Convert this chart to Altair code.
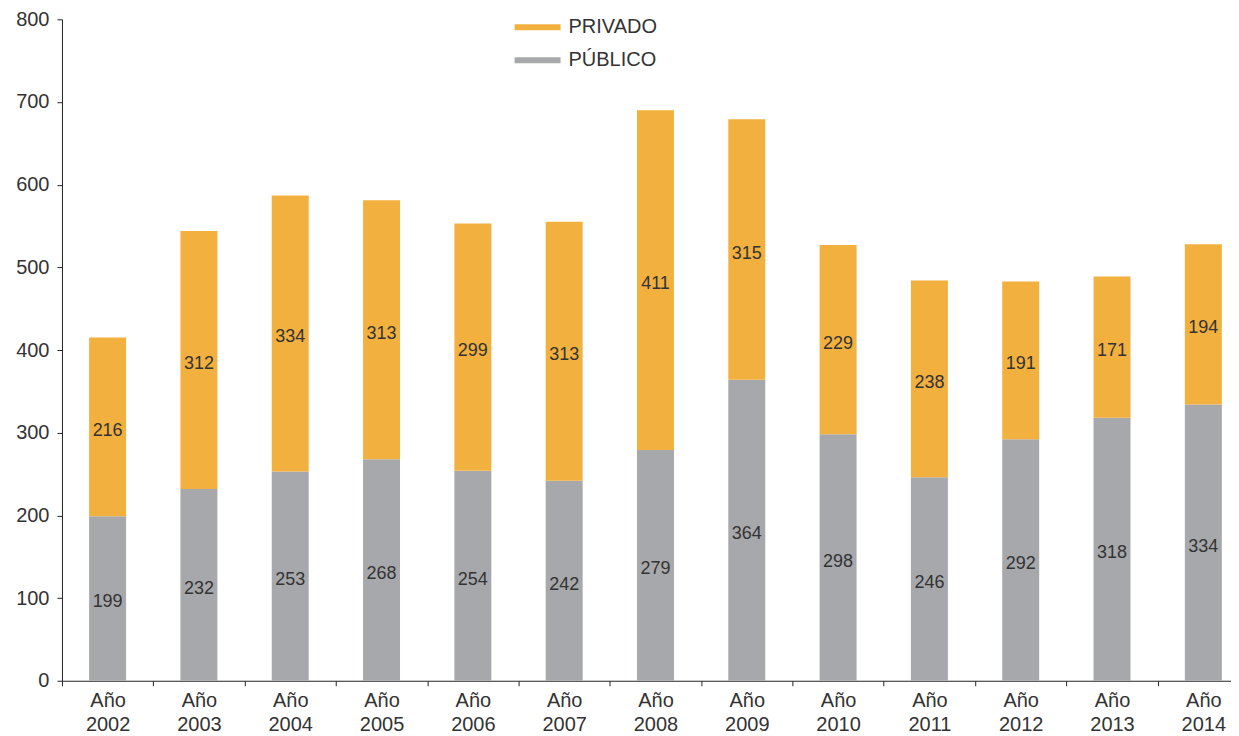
import altair as alt
import pandas as pd

years = ["Año 2002", "Año 2003", "Año 2004", "Año 2005", "Año 2006", "Año 2007",
         "Año 2008", "Año 2009", "Año 2010", "Año 2011", "Año 2012", "Año 2013", "Año 2014"]
publico = [199, 232, 253, 268, 254, 242, 279, 364, 298, 246, 292, 318, 334]
privado = [216, 312, 334, 313, 299, 313, 411, 315, 229, 238, 191, 171, 194]

rows = []
for y, pu, pr in zip(years, publico, privado):
    rows.append({"year": y, "serie": "PÚBLICO", "value": pu, "ord": 0, "mid": pu / 2})
    rows.append({"year": y, "serie": "PRIVADO", "value": pr, "ord": 1, "mid": pu + pr / 2})
df = pd.DataFrame(rows)

FONT = "Liberation Sans"
TXT = "#333333"

x = alt.X("year:N", sort=years, title=None,
          scale=alt.Scale(paddingInner=0, paddingOuter=0, rangeMax=1188),
          axis=alt.Axis(labelAngle=0, tickBand="extent", tickSize=5, labelPadding=5,
                        labelExpr="split(datum.label, ' ')", labelLineHeight=24,
                        labelFontSize=20, labelColor=TXT, labelFont=FONT,
                        domainColor="#222222", tickColor="#222222"))

bars = alt.Chart(df).mark_bar(width=alt.RelativeBandSize(0.405)).encode(
    x=x,
    y=alt.Y("value:Q", stack="zero", title=None,
            scale=alt.Scale(domain=[0, 800]),
            axis=alt.Axis(values=list(range(0, 801, 100)), grid=False, tickSize=5,
                          labelPadding=8, labelFontSize=20, labelColor=TXT, labelFont=FONT,
                          domainColor="#222222", tickColor="#222222")),
    color=alt.Color("serie:N", title=None,
                    scale=alt.Scale(domain=["PRIVADO", "PÚBLICO"], range=["#F2B03F", "#A7A8AC"]),
                    legend=alt.Legend(orient="none", legendX=453, legendY=-15,
                                      symbolType="M-1,-0.13H1V0.13H-1Z",
                                      symbolSize=2116, symbolStrokeWidth=0, labelFontSize=20,
                                      labelFont=FONT, labelColor=TXT, labelOffset=8,
                                      rowPadding=0, padding=0)),
    order=alt.Order("ord:Q"),
)

labels = alt.Chart(df).mark_text(fontSize=18, font=FONT, color=TXT, baseline="middle", dy=4).encode(
    x=alt.X("year:N", sort=years),
    y=alt.Y("mid:Q"),
    text=alt.Text("value:Q"),
)

chart = (bars + labels).properties(
    width=1170, height=662,
    autosize=alt.AutoSizeParams(type="none"),
    padding={"left": 54, "top": 11, "right": 0, "bottom": 54},
).configure_view(stroke=None)

chart.save("out.html", embed_options={"renderer": "svg", "actions": False})
